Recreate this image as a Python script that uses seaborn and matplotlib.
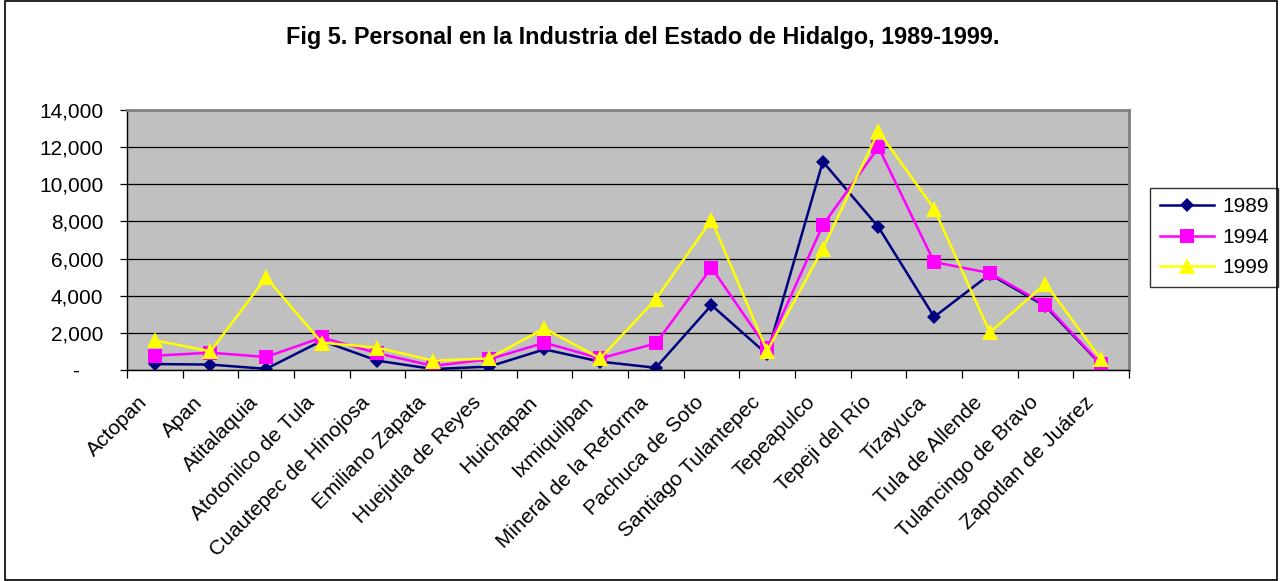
import pandas as pd
import matplotlib.pyplot as plt
import matplotlib.transforms as mtransforms
import seaborn as sns
from matplotlib.patches import Rectangle
from matplotlib.ticker import FuncFormatter, FixedLocator

municipios = ['Actopan', 'Apan', 'Atitalaquia', 'Atotonilco de Tula',
              'Cuautepec de Hinojosa', 'Emiliano Zapata', 'Huejutla de Reyes',
              'Huichapan', 'Ixmiquilpan', 'Mineral de la Reforma',
              'Pachuca de Soto', 'Santiago Tulantepec', 'Tepeapulco',
              'Tepeji del Río', 'Tizayuca', 'Tula de Allende',
              'Tulancingo de Bravo', 'Zapotlan de Juárez']

p1989 = [320, 290, 60, 1570, 500, 50, 180, 1110, 450, 120,
         3490, 840, 11220, 7690, 2860, 5150, 3430, 270]
p1994 = [770, 930, 700, 1750, 900, 220, 570, 1470, 620, 1430,
         5510, 1160, 7800, 11990, 5810, 5220, 3520, 300]
p1999 = [1600, 1000, 4980, 1470, 1200, 500, 620, 2240, 620, 3810,
         8080, 1020, 6530, 12850, 8680, 2020, 4650, 570]

years = ['1989', '1994', '1999']
colores = {'1989': '#000080', '1994': '#FF00FF', '1999': '#FFFF00'}
marcas = {'1989': 'D', '1994': 's', '1999': '^'}
tamanos = {'1989': 7.5, '1994': 9.5, '1999': 11}

df = pd.DataFrame({'Municipio': municipios * 3,
                   'Personal': p1989 + p1994 + p1999,
                   'Año': [y for y in years for _ in municipios]})

plt.rcParams['font.family'] = ['Liberation Sans', 'DejaVu Sans']

fig = plt.figure(figsize=(12.85, 5.81), dpi=100)
ax = fig.add_axes([0.0988, 0.3632, 0.7798, 0.4475])

sns.lineplot(data=df, x='Municipio', y='Personal', hue='Año', style='Año',
             hue_order=years, style_order=years, palette=colores,
             markers=marcas, dashes=False, sort=False, linewidth=1.8,
             markeredgewidth=0, ax=ax, legend=False)

for line, y in zip(ax.lines, years):
    line.set_markersize(tamanos[y])

ax.set_facecolor('#C0C0C0')
ax.set_xlim(-0.5, len(municipios) - 0.5)
ax.set_ylim(0, 14000)
ax.set_xlabel('')
ax.set_ylabel('')

ax.set_yticks(range(0, 14001, 2000))
ax.yaxis.set_major_formatter(FuncFormatter(
    lambda v, p: '-    ' if v == 0 else f'{int(v):,}'))
ax.grid(axis='y', color='black', linewidth=0.9)
ax.set_axisbelow(True)

ax.set_xticks(range(len(municipios)))
ax.set_xticklabels(municipios, rotation=45, ha='right', rotation_mode='anchor')
ax.xaxis.set_minor_locator(FixedLocator([i - 0.5 for i in range(len(municipios) + 1)]))
ax.tick_params(axis='x', which='major', length=0, pad=12, labelsize=15)
ax.tick_params(axis='x', which='minor', length=6, width=0.9, color='black')
ax.tick_params(axis='y', length=5, width=0.9, labelsize=15, pad=12)

# desplazar las etiquetas rotadas un poco a la izquierda y abajo
corrimiento = mtransforms.ScaledTranslation(-0.17, -0.06, fig.dpi_scale_trans)
for lab in ax.get_xticklabels():
    lab.set_transform(lab.get_transform() + corrimiento)

for s in ['top', 'right']:
    ax.spines[s].set_color('#808080')
    ax.spines[s].set_linewidth(2)
for s in ['left', 'bottom']:
    ax.spines[s].set_color('black')
    ax.spines[s].set_linewidth(1)

leg = ax.legend(ax.lines[:3], years, loc='center left',
                bbox_to_anchor=(1.011, 0.51), frameon=True, fancybox=False,
                edgecolor='black', fontsize=15, handlelength=2.6,
                borderpad=0.45, labelspacing=0.55, handletextpad=0.4)
leg.get_frame().set_linewidth(1)

fig.text(0.5, 0.936, 'Fig 5. Personal en la Industria del Estado de Hidalgo, 1989-1999.',
         ha='center', va='center', fontsize=16.8, fontweight='bold')

fig.patches.append(Rectangle((0.004, 0.001), 0.99, 0.997, transform=fig.transFigure,
                             fill=False, edgecolor='black', linewidth=1.2))

fig.savefig('out.png', dpi=100)
